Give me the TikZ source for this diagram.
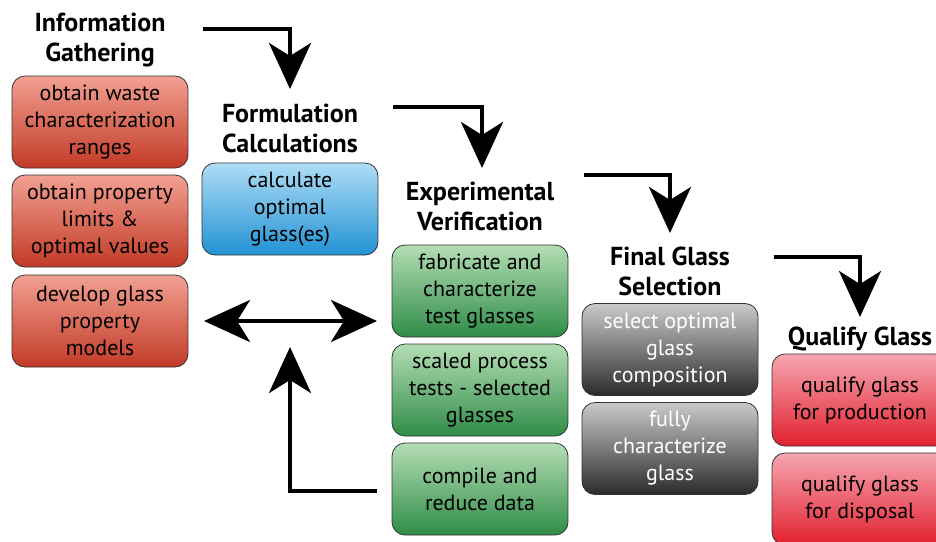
\documentclass[tikz,border=0pt]{standalone}
\usepackage{fontspec}
\setmainfont{PT Sans}
\usetikzlibrary{arrows.meta}
\definecolor{redtop}{HTML}{F2A092}
\definecolor{redbot}{HTML}{C23A26}
\definecolor{bluetop}{HTML}{AEDDF5}
\definecolor{bluebot}{HTML}{2292D4}
\definecolor{greentop}{HTML}{B4DEB4}
\definecolor{greenbot}{HTML}{2F8C48}
\definecolor{graytop}{HTML}{CACACA}
\definecolor{graybot}{HTML}{2B2B2B}
\definecolor{pinktop}{HTML}{F6A6B0}
\definecolor{pinkbot}{HTML}{E2202F}
\tikzset{
  box/.style={draw=black!80, line width=0.8pt, rounded corners=13pt,
    minimum width=176pt, minimum height=92pt, inner sep=0pt,
    align=center, font=\fontsize{22}{27}\selectfont},
  redbox/.style={box, top color=redtop, bottom color=redbot},
  bluebox/.style={box, top color=bluetop, bottom color=bluebot},
  greenbox/.style={box, top color=greentop, bottom color=greenbot},
  graybox/.style={box, top color=graytop, bottom color=graybot, text=white},
  pinkbox/.style={box, top color=pinktop, bottom color=pinkbot},
  title/.style={align=center, inner sep=0pt, font=\fontsize{26}{30}\selectfont\bfseries},
  bighead/.tip={Stealth[length=46pt, width=42pt, inset=13pt]},
  flow/.style={line width=4pt, -{bighead}},
}
\begin{document}
\begin{tikzpicture}[x=1pt, y=-1pt]
\useasboundingbox (0,0) rectangle (936,541);
\clip (0,0) rectangle (936,541);

% column titles
\node[title] (t1) at (100,40) {Information\\Gathering};
\node[title] (t2) at (290,128) {Formulation\\Calculations};
\node[title] (t3) at (480,206) {Experimental\\Verification};
\node[title] (t4) at (670,271) {Final Glass\\Selection};
\node[title] (t5) at (860,339) {Qualify Glass};

% information gathering
\node[redbox] (r1) at (100,122) {obtain waste\\characterization\\ranges};
\node[redbox] (r2) at (100,221) {obtain property\\limits \&\\optimal values};
\node[redbox] (r3) at (100,321) {develop glass\\property\\models};

% formulation
\node[bluebox] (b1) at (290,209) {calculate\\optimal\\glass(es)};

% experimental verification
\node[greenbox] (g1) at (480,291) {fabricate and\\characterize\\test glasses};
\node[greenbox] (g2) at (480,390) {scaled process\\tests - selected\\glasses};
\node[greenbox] (g3) at (480,489) {compile and\\reduce data};

% final selection
\node[graybox] (k1) at (670,349.5) {select optimal\\glass\\composition};
\node[graybox] (k2) at (670,448.5) {fully\\characterize\\glass};

% qualification
\node[pinkbox] (p1) at (860,400) {qualify glass\\for production};
\node[pinkbox] (p2) at (860,499) {qualify glass\\for disposal};

% stage-to-stage elbow arrows
\coordinate (a1s) at (203,29);
\coordinate (a1e) at (290,89);
\draw[flow] (a1s) -| (a1e);
\coordinate (a2s) at (393,107);
\coordinate (a2e) at (482,168);
\draw[flow] (a2s) -| (a2e);
\coordinate (a3s) at (584,175);
\coordinate (a3e) at (670,233);
\draw[flow] (a3s) -| (a3e);
\coordinate (a4s) at (774,257);
\coordinate (a4e) at (860,317);
\draw[flow] (a4s) -| (a4e);

% feedback loop between models and experiments
\coordinate (dl) at (204,321);
\coordinate (dr) at (377,321);
\draw[line width=4pt, {bighead}-{bighead}] (dl) -- (dr);
\coordinate (us) at (377,491);
\coordinate (ue) at (290,347);
\draw[flow] (us) -| (ue);
\end{tikzpicture}
\end{document}
